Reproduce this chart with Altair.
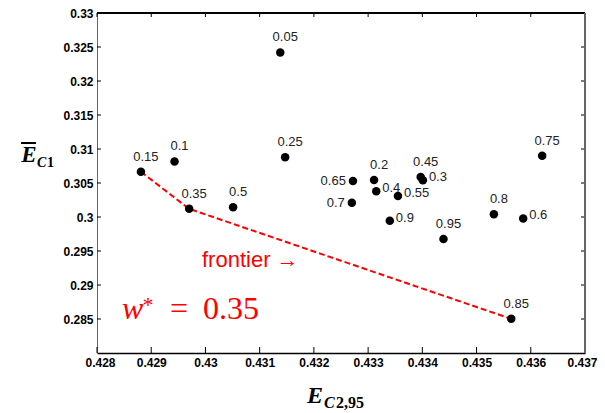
import altair as alt
import pandas as pd

# ---- data ----
weights = ["0.05", "0.1", "0.15", "0.2", "0.25", "0.3", "0.35", "0.4", "0.45", "0.5",
           "0.55", "0.6", "0.65", "0.7", "0.75", "0.8", "0.85", "0.9", "0.95"]
e_c2_95 = [0.43138, 0.42943, 0.42881, 0.43311, 0.43147, 0.43401, 0.42970, 0.43315, 0.43397, 0.43051,
           0.43355, 0.43586, 0.43272, 0.43270, 0.43621, 0.43532, 0.43564, 0.43340, 0.43439]
e_c1_mean = [0.3242, 0.30817, 0.30665, 0.30544, 0.3088, 0.30539, 0.3012, 0.30379, 0.30588, 0.30145,
             0.3031, 0.29978, 0.30529, 0.30208, 0.3090, 0.30042, 0.28502, 0.29944, 0.29677]
frontier_weights = ["0.15", "0.35", "0.85"]
x_ticks = [0.428, 0.429, 0.430, 0.431, 0.432, 0.433, 0.434, 0.435, 0.436, 0.437]
y_ticks = [0.285, 0.29, 0.295, 0.30, 0.305, 0.31, 0.315, 0.32, 0.325, 0.33]

W, H = 488, 340

df = pd.DataFrame({"w": weights, "x": e_c2_95, "y": e_c1_mean})
front = df[df["w"].isin(frontier_weights)].copy()
front["order"] = [frontier_weights.index(v) for v in front["w"]]
xt = pd.DataFrame({"t": x_ticks})
yt = pd.DataFrame({"t": y_ticks})

xs = alt.Scale(domain=[0.428, 0.437], nice=False, zero=False)
ys = alt.Scale(domain=[0.28, 0.33], nice=False, zero=False)

x_axis = alt.Axis(values=x_ticks, format="~g", title=None, ticks=False,
                  grid=False, domainColor="black", domainWidth=1.5,
                  labelPadding=4, labelOverlap=False, labelFlush=True, labelFlushOffset=12)
y_axis = alt.Axis(values=y_ticks, format="~g", title=None, ticks=False,
                  grid=False, domainColor="#666", domainWidth=1,
                  labelPadding=4, labelOverlap=False, labelFlush=False)
X = alt.X("x:Q", scale=xs, axis=x_axis)
Y = alt.Y("y:Q", scale=ys, axis=y_axis)

base = alt.Chart(df)

frontier_line = alt.Chart(front).mark_line(color="#ff0000", strokeWidth=2, strokeDash=[6, 3]).encode(
    x=X, y=Y, order="order:Q")

points = base.mark_point(filled=True, color="black", opacity=1, size=72).encode(x=X, y=Y)

above = ["0.05", "0.1", "0.15", "0.2", "0.25", "0.35", "0.45", "0.5", "0.75", "0.8", "0.85", "0.95"]
left_side = ["0.65", "0.7"]
right_side = ["0.3", "0.4", "0.55", "0.6", "0.9"]

lab_font = dict(font="Liberation Sans", fontSize=13, color="#222")
lab_above = base.transform_filter(alt.FieldOneOfPredicate(field="w", oneOf=above)).mark_text(
    align="center", baseline="middle", dx=5, dy=-15, **lab_font).encode(x=X, y=Y, text="w:N")
lab_left = base.transform_filter(alt.FieldOneOfPredicate(field="w", oneOf=left_side)).mark_text(
    align="right", baseline="middle", dx=-7, dy=0, **lab_font).encode(x=X, y=Y, text="w:N")
lab_right = base.transform_filter(alt.FieldOneOfPredicate(field="w", oneOf=right_side)).mark_text(
    align="left", baseline="middle", dx=6, dy=-3, **lab_font).encode(x=X, y=Y, text="w:N")

# inward tick marks on all four sides
tick_b = alt.Chart(xt).mark_rule(color="black").encode(
    x=alt.X("t:Q", scale=xs, axis=x_axis), y=alt.value(H), y2=alt.value(H - 6))
tick_t = alt.Chart(xt).mark_rule(color="black").encode(
    x=alt.X("t:Q", scale=xs, axis=x_axis), y=alt.value(0), y2=alt.value(4))
tick_l = alt.Chart(yt).mark_rule(color="black").encode(
    y=alt.Y("t:Q", scale=ys, axis=y_axis), x=alt.value(0), x2=alt.value(4))
tick_r = alt.Chart(yt).mark_rule(color="black").encode(
    y=alt.Y("t:Q", scale=ys, axis=y_axis), x=alt.value(W), x2=alt.value(W - 4))
top_line = alt.Chart(xt).mark_rule(color="black", strokeWidth=1).encode(
    x=alt.value(0), x2=alt.value(W), y=alt.value(0))
right_line = alt.Chart(xt).mark_rule(color="#666", strokeWidth=1).encode(
    x=alt.value(W), y=alt.value(0), y2=alt.value(H))

one = pd.DataFrame({"k": [0]})

def txt(s, x, y, **kw):
    return alt.Chart(one).mark_text(text=s, **kw).encode(x=alt.value(x), y=alt.value(y))

red = "#ff0000"
annots = [
    txt("frontier \u2192", 105, 254, align="left", baseline="alphabetic", font="Liberation Sans",
        fontSize=22, color=red),
    txt("w", 25, 306, align="left", baseline="alphabetic", font="Liberation Serif",
        fontStyle="italic", fontSize=32, color=red),
    txt("*", 51, 292, align="center", baseline="middle", font="Liberation Serif",
        fontSize=22, color=red),
    txt("=", 73, 306, align="left", baseline="alphabetic", font="Liberation Serif",
        fontSize=32, color=red),
    txt("0.35", 106, 306, align="left", baseline="alphabetic", font="Liberation Serif",
        fontSize=32, color=red),
    # y title  E-bar_{C1}
    txt("E", -68, 149, align="center", baseline="alphabetic", font="Liberation Serif",
        fontStyle="italic", fontWeight="bold", fontSize=23, color="black"),
    txt("C", -60, 154, align="left", baseline="alphabetic", font="Liberation Serif",
        fontStyle="italic", fontWeight="bold", fontSize=14, color="black"),
    txt("1", -50, 154, align="left", baseline="alphabetic", font="Liberation Serif",
        fontWeight="bold", fontSize=14, color="black"),
    # x title  E_{C2,95}
    txt("E", 210, 390, align="left", baseline="alphabetic", font="Liberation Serif",
        fontStyle="italic", fontWeight="bold", fontSize=24, color="black"),
    txt("C", 227, 395, align="left", baseline="alphabetic", font="Liberation Serif",
        fontStyle="italic", fontWeight="bold", fontSize=16, color="black"),
    txt("2,95", 239, 395, align="left", baseline="alphabetic", font="Liberation Serif",
        fontWeight="bold", fontSize=16, color="black"),
]
overline = alt.Chart(one).mark_rule(color="black", strokeWidth=2).encode(
    x=alt.value(-76), x2=alt.value(-61), y=alt.value(130))

chart = alt.layer(
    tick_b, tick_t, tick_l, tick_r, top_line, right_line,
    frontier_line, points, lab_above, lab_left, lab_right, overline, *annots
).properties(
    width=W, height=H,
    autosize=alt.AutoSizeParams(type="none"),
    padding={"left": 89, "top": 5, "right": 12, "bottom": 60},
).configure_view(stroke=None).configure_axis(
    labelFont="Liberation Sans", labelFontSize=12, labelFontWeight="bold", labelColor="black"
)

chart.save("out.html", embed_options={"renderer": "svg", "actions": False})
